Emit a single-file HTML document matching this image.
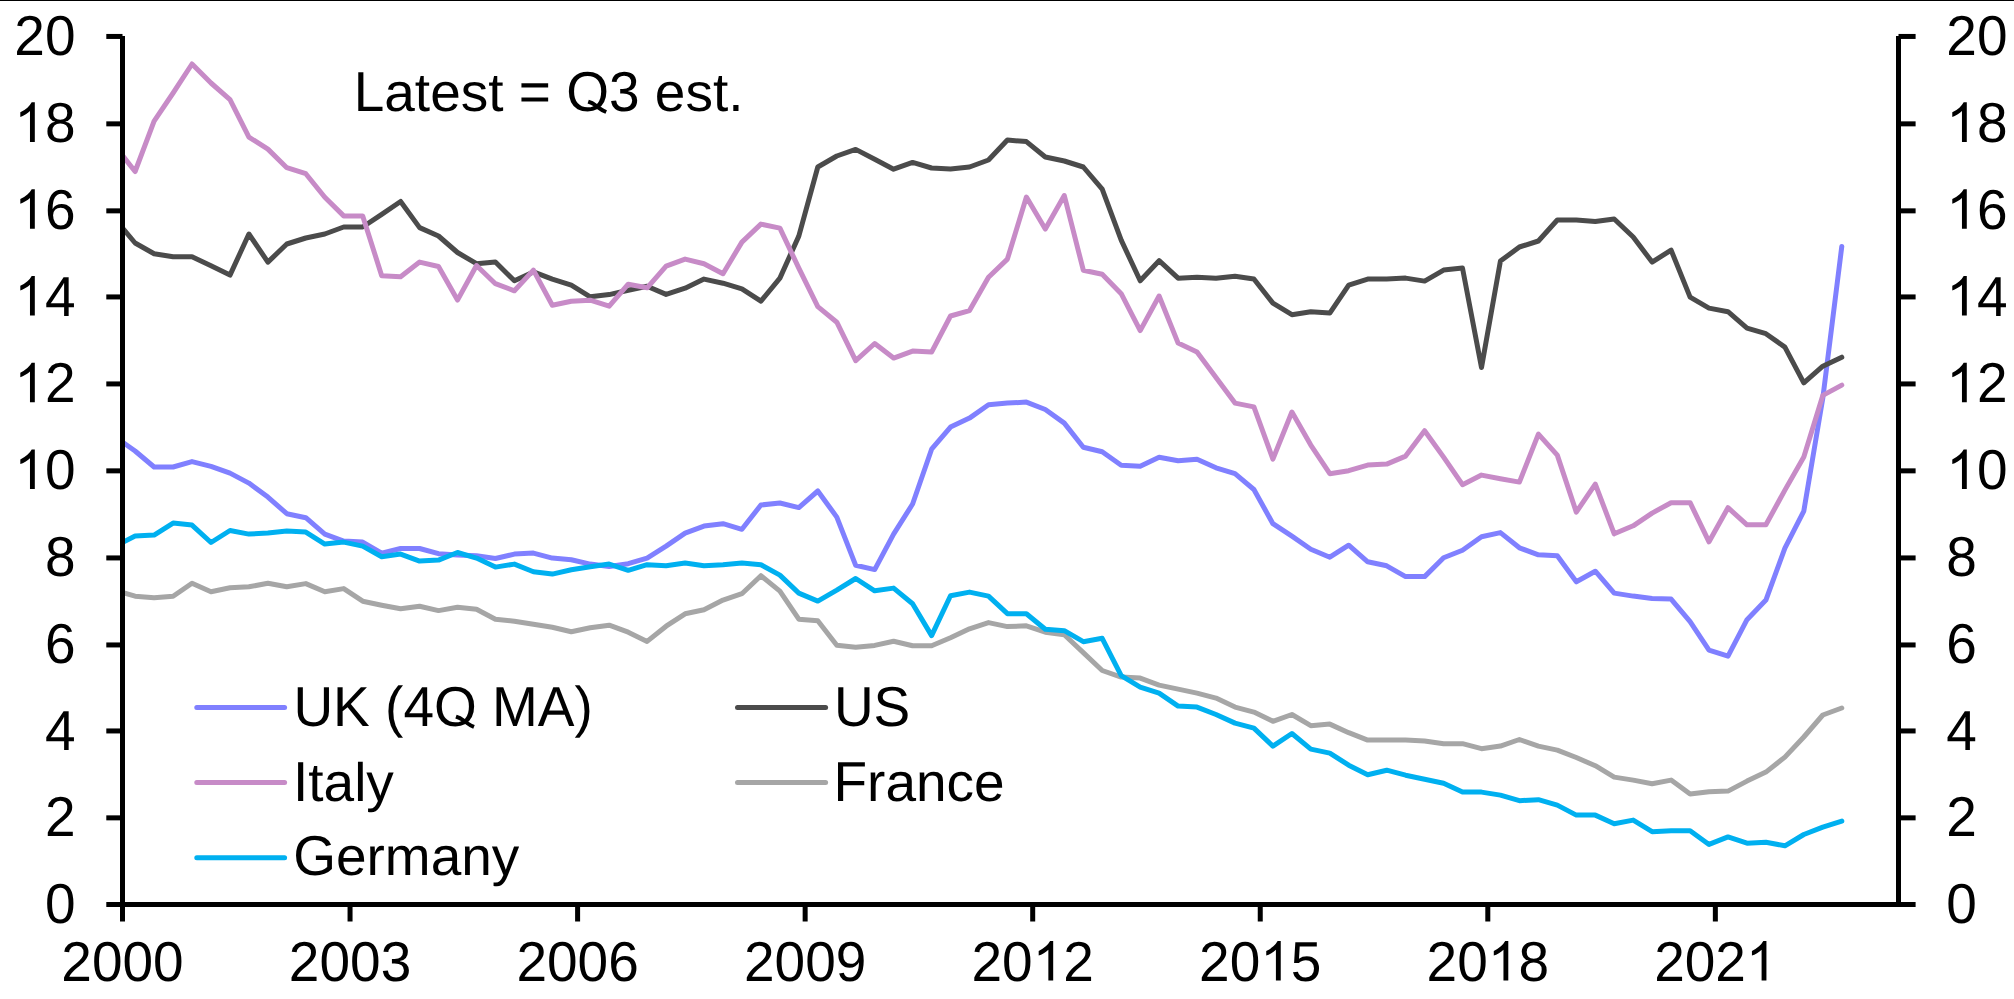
<!DOCTYPE html>
<html><head><meta charset="utf-8"><title>Chart</title><style>html,body{margin:0;padding:0;background:#fff}body{width:2014px;height:999px;overflow:hidden}svg{display:block}text{font-family:"Liberation Sans",sans-serif;font-size:55px;fill:#000;font-kerning:none;text-rendering:geometricPrecision}</style></head><body>
<svg width="2014" height="999" viewBox="0 0 2014 999">
<rect x="0" y="0" width="2014" height="999" fill="#fff"/>
<rect x="0" y="0" width="2014" height="1" fill="#000"/>
<defs><clipPath id="c"><rect x="122.5" y="0" width="1780" height="904.5"/></clipPath></defs>
<g clip-path="url(#c)" fill="none" stroke-width="5" stroke-linejoin="round" stroke-linecap="round">
<path d="M116.2,437.6 L135.1,451.0 L154.1,467.0 L173.1,467.0 L192.0,461.6 L211.0,466.4 L230.0,473.1 L248.9,483.1 L267.9,497.1 L286.8,513.7 L305.8,517.7 L324.8,534.1 L343.7,541.1 L362.7,542.1 L381.7,553.1 L400.6,548.5 L419.6,548.5 L438.5,553.7 L457.5,555.1 L476.5,555.7 L495.4,558.5 L514.4,554.1 L533.4,553.1 L552.3,558.1 L571.3,559.7 L590.2,564.1 L609.2,566.5 L628.2,563.7 L647.1,558.1 L666.1,546.1 L685.1,533.1 L704.0,526.1 L723.0,523.7 L741.9,529.3 L760.9,505.0 L779.9,503.0 L798.8,507.6 L817.8,491.0 L836.8,517.1 L855.7,565.3 L874.7,569.6 L893.6,534.1 L912.6,504.0 L931.6,449.2 L950.5,427.1 L969.5,418.1 L988.5,404.7 L1007.4,403.1 L1026.4,402.1 L1045.3,409.5 L1064.3,423.1 L1083.3,447.2 L1102.2,451.8 L1121.2,465.2 L1140.2,466.2 L1159.1,457.2 L1178.1,460.8 L1197.0,459.2 L1216.0,467.8 L1235.0,473.7 L1253.9,489.5 L1272.9,523.7 L1291.9,536.2 L1310.8,549.2 L1329.8,557.2 L1348.7,545.2 L1367.7,561.8 L1386.7,565.8 L1405.6,576.6 L1424.6,576.6 L1443.6,557.8 L1462.5,550.2 L1481.5,536.8 L1500.4,532.6 L1519.4,547.8 L1538.4,554.8 L1557.3,555.8 L1576.3,581.8 L1595.3,571.2 L1614.2,593.1 L1633.2,596.1 L1652.1,598.5 L1671.1,599.1 L1690.1,621.7 L1709.0,650.1 L1728.0,656.1 L1747.0,619.7 L1765.9,600.1 L1784.9,548.1 L1803.8,511.1 L1822.8,398.2 L1841.8,246.4" stroke="#8080FF"/>
<path d="M116.2,220.6 L135.1,243.0 L154.1,253.7 L173.1,256.7 L192.0,256.7 L211.0,265.7 L230.0,275.1 L248.9,234.0 L267.9,262.1 L286.8,244.0 L305.8,238.0 L324.8,234.0 L343.7,227.0 L362.7,227.0 L381.7,214.4 L400.6,201.5 L419.6,227.6 L438.5,236.0 L457.5,252.5 L476.5,263.7 L495.4,261.9 L514.4,280.8 L533.4,271.9 L552.3,279.1 L571.3,285.2 L590.2,296.8 L609.2,294.6 L628.2,290.2 L647.1,286.2 L666.1,294.4 L685.1,288.2 L704.0,279.1 L723.0,283.2 L741.9,288.8 L760.9,301.2 L779.9,278.1 L798.8,236.1 L817.8,167.0 L836.8,156.0 L855.7,149.4 L874.7,159.3 L893.6,169.2 L912.6,162.4 L931.6,168.0 L950.5,169.0 L969.5,167.0 L988.5,160.0 L1007.4,140.0 L1026.4,141.6 L1045.3,157.0 L1064.3,161.0 L1083.3,167.0 L1102.2,189.1 L1121.2,240.1 L1140.2,280.8 L1159.1,260.7 L1178.1,278.2 L1197.0,277.2 L1216.0,278.2 L1235.0,276.2 L1253.9,279.0 L1272.9,303.1 L1291.9,314.7 L1310.8,311.7 L1329.8,313.1 L1348.7,285.1 L1367.7,279.1 L1386.7,279.1 L1405.6,278.1 L1424.6,281.1 L1443.6,270.1 L1462.5,268.1 L1481.5,367.5 L1500.4,261.1 L1519.4,247.0 L1538.4,241.0 L1557.3,220.0 L1576.3,220.0 L1595.3,221.6 L1614.2,219.0 L1633.2,237.0 L1652.1,262.1 L1671.1,250.1 L1690.1,297.1 L1709.0,308.1 L1728.0,311.7 L1747.0,328.1 L1765.9,333.7 L1784.9,347.1 L1803.8,382.8 L1822.8,366.2 L1841.8,357.2" stroke="#4B4B4B"/>
<path d="M116.2,147.5 L135.1,171.5 L154.1,121.1 L173.1,93.0 L192.0,64.0 L211.0,83.0 L230.0,99.7 L248.9,137.1 L267.9,149.1 L286.8,167.7 L305.8,173.7 L324.8,197.2 L343.7,215.9 L362.7,215.9 L381.7,275.7 L400.6,276.7 L419.6,262.1 L438.5,266.5 L457.5,300.1 L476.5,265.5 L495.4,283.7 L514.4,290.8 L533.4,270.1 L552.3,305.2 L571.3,301.2 L590.2,300.2 L609.2,306.2 L628.2,284.2 L647.1,287.8 L666.1,266.1 L685.1,259.1 L704.0,263.7 L723.0,273.7 L741.9,242.1 L760.9,224.1 L779.9,228.1 L798.8,268.1 L817.8,306.6 L836.8,322.2 L855.7,360.7 L874.7,343.5 L893.6,358.1 L912.6,351.1 L931.6,352.1 L950.5,316.0 L969.5,310.6 L988.5,277.2 L1007.4,259.1 L1026.4,197.1 L1045.3,229.1 L1064.3,195.5 L1083.3,270.2 L1102.2,274.2 L1121.2,293.7 L1140.2,330.6 L1159.1,296.0 L1178.1,343.1 L1197.0,352.1 L1216.0,377.5 L1235.0,403.1 L1253.9,406.9 L1272.9,459.1 L1291.9,412.0 L1310.8,445.1 L1329.8,473.7 L1348.7,470.7 L1367.7,465.1 L1386.7,464.1 L1405.6,456.1 L1424.6,430.7 L1443.6,457.1 L1462.5,484.7 L1481.5,475.1 L1500.4,478.7 L1519.4,482.1 L1538.4,434.1 L1557.3,455.1 L1576.3,512.1 L1595.3,484.1 L1614.2,533.8 L1633.2,525.8 L1652.1,513.1 L1671.1,502.7 L1690.1,502.7 L1709.0,541.8 L1728.0,507.7 L1747.0,524.8 L1765.9,524.8 L1784.9,490.1 L1803.8,457.1 L1822.8,395.4 L1841.8,385.1" stroke="#C78BC7"/>
<path d="M116.2,590.8 L135.1,596.2 L154.1,597.8 L173.1,596.2 L192.0,583.2 L211.0,591.8 L230.0,587.8 L248.9,586.8 L267.9,583.2 L286.8,586.8 L305.8,583.6 L324.8,591.8 L343.7,588.6 L362.7,601.2 L381.7,605.2 L400.6,608.8 L419.6,606.2 L438.5,610.6 L457.5,607.2 L476.5,609.2 L495.4,619.2 L514.4,621.2 L533.4,624.2 L552.3,627.2 L571.3,631.8 L590.2,627.8 L609.2,625.2 L628.2,632.2 L647.1,641.4 L666.1,626.2 L685.1,613.8 L704.0,609.7 L723.0,600.1 L741.9,593.7 L760.9,575.7 L779.9,591.1 L798.8,619.2 L817.8,620.8 L836.8,645.2 L855.7,647.2 L874.7,645.4 L893.6,641.2 L912.6,645.8 L931.6,645.8 L950.5,637.8 L969.5,628.8 L988.5,622.6 L1007.4,626.6 L1026.4,625.8 L1045.3,632.2 L1064.3,634.8 L1083.3,652.6 L1102.2,670.5 L1121.2,677.1 L1140.2,678.1 L1159.1,685.1 L1178.1,689.1 L1197.0,693.1 L1216.0,698.1 L1235.0,707.1 L1253.9,712.1 L1272.9,721.3 L1291.9,714.5 L1310.8,725.7 L1329.8,724.1 L1348.7,732.7 L1367.7,740.1 L1386.7,740.1 L1405.6,740.1 L1424.6,741.1 L1443.6,743.7 L1462.5,743.7 L1481.5,748.7 L1500.4,746.1 L1519.4,739.5 L1538.4,746.1 L1557.3,750.1 L1576.3,757.5 L1595.3,765.7 L1614.2,777.1 L1633.2,780.1 L1652.1,783.7 L1671.1,780.1 L1690.1,794.1 L1709.0,791.7 L1728.0,791.1 L1747.0,781.1 L1765.9,772.1 L1784.9,757.1 L1803.8,737.0 L1822.8,715.0 L1841.8,708.0" stroke="#A6A6A6"/>
<path d="M116.2,545.7 L135.1,536.1 L154.1,535.1 L173.1,523.1 L192.0,525.1 L211.0,542.5 L230.0,530.5 L248.9,534.1 L267.9,533.1 L286.8,531.1 L305.8,532.1 L324.8,544.1 L343.7,542.1 L362.7,546.1 L381.7,556.7 L400.6,554.1 L419.6,561.1 L438.5,560.1 L457.5,552.5 L476.5,558.1 L495.4,567.1 L514.4,564.1 L533.4,571.7 L552.3,574.1 L571.3,569.7 L590.2,566.7 L609.2,564.1 L628.2,570.3 L647.1,564.7 L666.1,565.7 L685.1,563.1 L704.0,565.7 L723.0,564.7 L741.9,563.1 L760.9,564.7 L779.9,575.1 L798.8,593.1 L817.8,601.1 L836.8,590.1 L855.7,578.5 L874.7,590.8 L893.6,588.1 L912.6,603.7 L931.6,635.6 L950.5,595.7 L969.5,592.1 L988.5,596.1 L1007.4,613.7 L1026.4,613.7 L1045.3,629.2 L1064.3,630.7 L1083.3,641.7 L1102.2,638.3 L1121.2,675.7 L1140.2,687.1 L1159.1,693.1 L1178.1,706.1 L1197.0,707.1 L1216.0,714.5 L1235.0,723.1 L1253.9,728.1 L1272.9,746.1 L1291.9,733.5 L1310.8,749.1 L1329.8,753.1 L1348.7,765.2 L1367.7,774.8 L1386.7,770.2 L1405.6,775.2 L1424.6,779.2 L1443.6,783.2 L1462.5,792.1 L1481.5,792.1 L1500.4,795.1 L1519.4,800.7 L1538.4,799.7 L1557.3,805.1 L1576.3,815.1 L1595.3,815.1 L1614.2,823.7 L1633.2,820.1 L1652.1,831.7 L1671.1,830.7 L1690.1,830.7 L1709.0,844.4 L1728.0,836.9 L1747.0,843.2 L1765.9,842.2 L1784.9,845.8 L1803.8,834.5 L1822.8,827.1 L1841.8,821.1" stroke="#00B0F0"/>
</g>
<g fill="#000">
<rect x="120" y="36" width="5" height="885.5"/>
<rect x="1896" y="36" width="5" height="871"/>
<rect x="106.3" y="902" width="1809.3" height="5"/>
<rect x="106.3" y="815.35" width="16.2" height="5"/>
<rect x="1898.5" y="815.35" width="17.1" height="5"/>
<rect x="106.3" y="728.45" width="16.2" height="5"/>
<rect x="1898.5" y="728.45" width="17.1" height="5"/>
<rect x="106.3" y="642.45" width="16.2" height="5"/>
<rect x="1898.5" y="642.45" width="17.1" height="5"/>
<rect x="106.3" y="555.43" width="16.2" height="5"/>
<rect x="1898.5" y="555.43" width="17.1" height="5"/>
<rect x="106.3" y="468.35" width="16.2" height="5"/>
<rect x="1898.5" y="468.35" width="17.1" height="5"/>
<rect x="106.3" y="381.43" width="16.2" height="5"/>
<rect x="1898.5" y="381.43" width="17.1" height="5"/>
<rect x="106.3" y="294.43" width="16.2" height="5"/>
<rect x="1898.5" y="294.43" width="17.1" height="5"/>
<rect x="106.3" y="208.35" width="16.2" height="5"/>
<rect x="1898.5" y="208.35" width="17.1" height="5"/>
<rect x="106.3" y="121.35" width="16.2" height="5"/>
<rect x="1898.5" y="121.35" width="17.1" height="5"/>
<rect x="106.3" y="33.95" width="16.2" height="5"/>
<rect x="1898.5" y="33.95" width="17.1" height="5"/>
<rect x="347.55" y="905" width="5" height="16.5"/>
<rect x="575.10" y="905" width="5" height="16.5"/>
<rect x="802.65" y="905" width="5" height="16.5"/>
<rect x="1030.20" y="905" width="5" height="16.5"/>
<rect x="1257.75" y="905" width="5" height="16.5"/>
<rect x="1485.30" y="905" width="5" height="16.5"/>
<rect x="1712.85" y="905" width="5" height="16.5"/>
</g>
<text transform="translate(44.91,923.10) scale(1,1.025)" x="0.00" y="0">0</text>
<text transform="translate(1946.30,923.10) scale(1,1.025)" x="0.00" y="0">0</text>
<text transform="translate(44.91,836.30) scale(1,1.025)" x="0.00" y="0">2</text>
<text transform="translate(1946.30,836.30) scale(1,1.025)" x="0.00" y="0">2</text>
<text transform="translate(44.91,749.50) scale(1,1.025)" x="0.00" y="0">4</text>
<text transform="translate(1946.30,749.50) scale(1,1.025)" x="0.00" y="0">4</text>
<text transform="translate(44.91,662.70) scale(1,1.025)" x="0.00" y="0">6</text>
<text transform="translate(1946.30,662.70) scale(1,1.025)" x="0.00" y="0">6</text>
<text transform="translate(44.91,575.90) scale(1,1.025)" x="0.00" y="0">8</text>
<text transform="translate(1946.30,575.90) scale(1,1.025)" x="0.00" y="0">8</text>
<path d="M763 0H583V1147Q518 1085 412.5 1023Q307 961 223 930V1104Q374 1175 487 1276Q600 1377 647 1472H763Z" transform="translate(14.32,489.10) scale(0.026855,-0.026855)" fill="#000"/>
<text transform="translate(14.32,489.10) scale(1,1.025)" x="30.59" y="0">0</text>
<path d="M763 0H583V1147Q518 1085 412.5 1023Q307 961 223 930V1104Q374 1175 487 1276Q600 1377 647 1472H763Z" transform="translate(1946.30,489.10) scale(0.026855,-0.026855)" fill="#000"/>
<text transform="translate(1946.30,489.10) scale(1,1.025)" x="30.59" y="0">0</text>
<path d="M763 0H583V1147Q518 1085 412.5 1023Q307 961 223 930V1104Q374 1175 487 1276Q600 1377 647 1472H763Z" transform="translate(14.32,402.30) scale(0.026855,-0.026855)" fill="#000"/>
<text transform="translate(14.32,402.30) scale(1,1.025)" x="30.59" y="0">2</text>
<path d="M763 0H583V1147Q518 1085 412.5 1023Q307 961 223 930V1104Q374 1175 487 1276Q600 1377 647 1472H763Z" transform="translate(1946.30,402.30) scale(0.026855,-0.026855)" fill="#000"/>
<text transform="translate(1946.30,402.30) scale(1,1.025)" x="30.59" y="0">2</text>
<path d="M763 0H583V1147Q518 1085 412.5 1023Q307 961 223 930V1104Q374 1175 487 1276Q600 1377 647 1472H763Z" transform="translate(14.32,315.50) scale(0.026855,-0.026855)" fill="#000"/>
<text transform="translate(14.32,315.50) scale(1,1.025)" x="30.59" y="0">4</text>
<path d="M763 0H583V1147Q518 1085 412.5 1023Q307 961 223 930V1104Q374 1175 487 1276Q600 1377 647 1472H763Z" transform="translate(1946.30,315.50) scale(0.026855,-0.026855)" fill="#000"/>
<text transform="translate(1946.30,315.50) scale(1,1.025)" x="30.59" y="0">4</text>
<path d="M763 0H583V1147Q518 1085 412.5 1023Q307 961 223 930V1104Q374 1175 487 1276Q600 1377 647 1472H763Z" transform="translate(14.32,228.70) scale(0.026855,-0.026855)" fill="#000"/>
<text transform="translate(14.32,228.70) scale(1,1.025)" x="30.59" y="0">6</text>
<path d="M763 0H583V1147Q518 1085 412.5 1023Q307 961 223 930V1104Q374 1175 487 1276Q600 1377 647 1472H763Z" transform="translate(1946.30,228.70) scale(0.026855,-0.026855)" fill="#000"/>
<text transform="translate(1946.30,228.70) scale(1,1.025)" x="30.59" y="0">6</text>
<path d="M763 0H583V1147Q518 1085 412.5 1023Q307 961 223 930V1104Q374 1175 487 1276Q600 1377 647 1472H763Z" transform="translate(14.32,141.90) scale(0.026855,-0.026855)" fill="#000"/>
<text transform="translate(14.32,141.90) scale(1,1.025)" x="30.59" y="0">8</text>
<path d="M763 0H583V1147Q518 1085 412.5 1023Q307 961 223 930V1104Q374 1175 487 1276Q600 1377 647 1472H763Z" transform="translate(1946.30,141.90) scale(0.026855,-0.026855)" fill="#000"/>
<text transform="translate(1946.30,141.90) scale(1,1.025)" x="30.59" y="0">8</text>
<text transform="translate(14.32,55.10) scale(1,1.025)" x="0.00 30.59" y="0">20</text>
<text transform="translate(1946.30,55.10) scale(1,1.025)" x="0.00 30.59" y="0">20</text>
<text transform="translate(61.32,980.60) scale(1,1.025)" x="0.00 30.59 61.18 91.77" y="0">2000</text>
<text transform="translate(288.87,980.60) scale(1,1.025)" x="0.00 30.59 61.18 91.77" y="0">2003</text>
<text transform="translate(516.42,980.60) scale(1,1.025)" x="0.00 30.59 61.18 91.77" y="0">2006</text>
<text transform="translate(743.97,980.60) scale(1,1.025)" x="0.00 30.59 61.18 91.77" y="0">2009</text>
<path d="M763 0H583V1147Q518 1085 412.5 1023Q307 961 223 930V1104Q374 1175 487 1276Q600 1377 647 1472H763Z" transform="translate(1032.70,980.60) scale(0.026855,-0.026855)" fill="#000"/>
<text transform="translate(971.52,980.60) scale(1,1.025)" x="0.00 30.59 91.77" y="0">202</text>
<path d="M763 0H583V1147Q518 1085 412.5 1023Q307 961 223 930V1104Q374 1175 487 1276Q600 1377 647 1472H763Z" transform="translate(1260.25,980.60) scale(0.026855,-0.026855)" fill="#000"/>
<text transform="translate(1199.07,980.60) scale(1,1.025)" x="0.00 30.59 91.77" y="0">205</text>
<path d="M763 0H583V1147Q518 1085 412.5 1023Q307 961 223 930V1104Q374 1175 487 1276Q600 1377 647 1472H763Z" transform="translate(1487.80,980.60) scale(0.026855,-0.026855)" fill="#000"/>
<text transform="translate(1426.62,980.60) scale(1,1.025)" x="0.00 30.59 91.77" y="0">208</text>
<path d="M763 0H583V1147Q518 1085 412.5 1023Q307 961 223 930V1104Q374 1175 487 1276Q600 1377 647 1472H763Z" transform="translate(1745.94,980.60) scale(0.026855,-0.026855)" fill="#000"/>
<text transform="translate(1654.17,980.60) scale(1,1.025)" x="0.00 30.59 61.18" y="0">202</text>
<path d="M842 405Q1010 358 1119 265L1269 157Q1404 64 1518 21L1461 -114Q1303 -57 1146 66L987 180Q896 239 795 264Z" transform="translate(566.21,110.70) scale(0.026855,-0.026855)" fill="#000"/>
<text transform="translate(353.70,110.70) scale(1,1.025)" x="0.00 165.11 212.51 255.29 374.53" y="0">L=O3.</text>
<text transform="translate(353.70,110.70) scale(1,0.985)" x="30.59 61.18 76.46 107.05 134.55 301.16 331.75 359.25" y="0">atestest</text>
<line x1="196.8" y1="707.5" x2="284.6" y2="707.5" stroke="#8080FF" stroke-width="5" stroke-linecap="round"/>
<path d="M842 405Q1010 358 1119 265L1269 157Q1404 64 1518 21L1461 -114Q1303 -57 1146 66L987 180Q896 239 795 264Z" transform="translate(433.99,725.60) scale(0.026855,-0.026855)" fill="#000"/>
<text transform="translate(293.40,725.60) scale(1,1.025)" x="0.00 39.72 91.68 110.00 140.59 198.65 244.47 281.15" y="0">UK(4OMA)</text>
<line x1="737.5" y1="707.5" x2="825.6" y2="707.5" stroke="#4B4B4B" stroke-width="5" stroke-linecap="round"/>
<text transform="translate(833.90,725.60) scale(1,1.025)" x="0.00 39.72" y="0">US</text>
<line x1="196.8" y1="782.6" x2="284.6" y2="782.6" stroke="#C78BC7" stroke-width="5" stroke-linecap="round"/>
<text transform="translate(293.00,800.60) scale(1,1.025)" x="0.00" y="0">I</text>
<text transform="translate(293.00,800.60) scale(1,0.985)" x="15.28 30.56 61.15 73.37" y="0">taly</text>
<line x1="737.5" y1="782.6" x2="825.6" y2="782.6" stroke="#A6A6A6" stroke-width="5" stroke-linecap="round"/>
<text transform="translate(833.50,800.60) scale(1,1.025)" x="0.00" y="0">F</text>
<text transform="translate(833.50,800.60) scale(1,0.985)" x="33.60 51.91 82.50 113.09 140.59" y="0">rance</text>
<line x1="196.8" y1="857.7" x2="284.6" y2="857.7" stroke="#00B0F0" stroke-width="5" stroke-linecap="round"/>
<text transform="translate(293.20,875.40) scale(1,1.025)" x="0.00" y="0">G</text>
<text transform="translate(293.20,875.40) scale(1,0.985)" x="42.78 73.37 91.68 137.50 168.09 198.68" y="0">ermany</text>
</svg></body></html>
